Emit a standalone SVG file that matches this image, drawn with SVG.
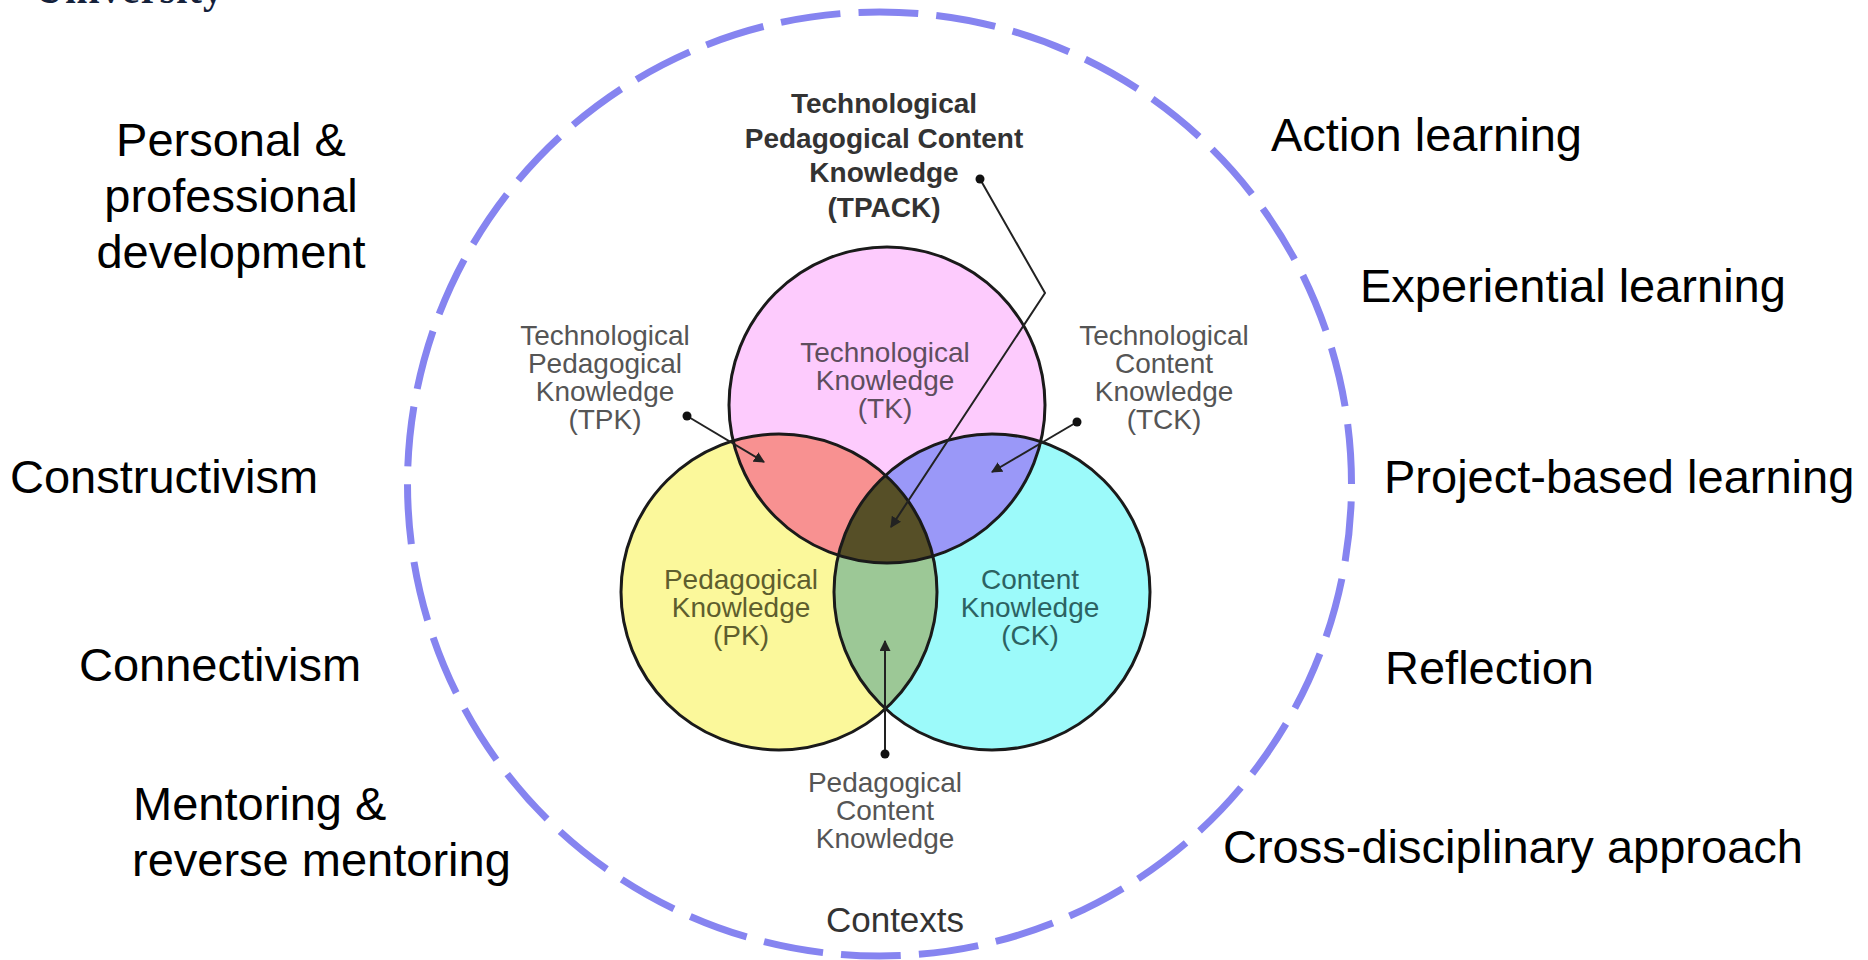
<svg xmlns="http://www.w3.org/2000/svg" width="1868" height="960" viewBox="0 0 1868 960">
  <style>
    .outer { font-family: "Liberation Sans", Arial, sans-serif; font-size: 47px; fill: #000; }
    .lbl { font-family: "Liberation Sans", Arial, sans-serif; font-size: 28px; fill: #555; text-anchor: middle; }
    .bold { font-weight: bold; fill: #333; }
    .ring { fill: none; stroke: #1a1a1a; stroke-width: 3; }
    .conn { fill: none; stroke: #222; stroke-width: 2; }
    .dot { fill: #111; }
  </style>
  <defs>
    <marker id="arrow" viewBox="0 0 10 10" refX="9" refY="5" markerWidth="11" markerHeight="11" markerUnits="userSpaceOnUse" orient="auto">
      <path d="M0,0 L10,5 L0,10 z" fill="#222"/>
    </marker>
    <clipPath id="clipTK"><circle cx="887" cy="405" r="158"/></clipPath>
    <clipPath id="clipPK"><circle cx="779" cy="592" r="158"/></clipPath>
    <clipPath id="clipCK"><circle cx="992" cy="592" r="158"/></clipPath>
  </defs>

  <rect width="1868" height="960" fill="#fff"/>

  <!-- header word cut by the top edge -->
  <text x="35" y="3" font-family="'Liberation Serif', serif" font-weight="bold" font-size="40" fill="#14213a" textLength="188">University</text>

  <!-- contexts ring -->
  <g id="contexts">
    <circle cx="879.5" cy="484" r="472" fill="none" stroke="#8684f0" stroke-width="7" stroke-dasharray="60 18.044" stroke-dashoffset="-17.47"/>
    <text class="lbl" x="895" y="932" style="font-size:35px; fill:#333">Contexts</text>
  </g>

  <!-- knowledge domains -->
  <g id="pk">
    <circle cx="779" cy="592" r="158" fill="#fbf89b"/>
  </g>
  <g id="ck">
    <circle cx="992" cy="592" r="158" fill="#9cfafa"/>
  </g>
  <g id="tk">
    <circle cx="887" cy="405" r="158" fill="#fdcbfd"/>
  </g>
  <g id="tpk">
    <circle cx="779" cy="592" r="158" fill="#f89191" clip-path="url(#clipTK)"/>
  </g>
  <g id="tck">
    <circle cx="992" cy="592" r="158" fill="#9a98f8" clip-path="url(#clipTK)"/>
  </g>
  <g id="pck">
    <circle cx="992" cy="592" r="158" fill="#9cc896" clip-path="url(#clipPK)"/>
  </g>
  <g id="tpack">
    <g clip-path="url(#clipPK)">
      <circle cx="992" cy="592" r="158" fill="#564f27" clip-path="url(#clipTK)"/>
    </g>
  </g>
  <g id="outlines">
    <circle class="ring" cx="779" cy="592" r="158"/>
    <circle class="ring" cx="992" cy="592" r="158"/>
    <circle class="ring" cx="887" cy="405" r="158"/>
  </g>

  <!-- domain labels -->
  <g id="tk-label">
    <text class="lbl" x="885" y="362" style="fill:#5e4e5e">Technological<tspan x="885" dy="28">Knowledge</tspan><tspan x="885" dy="28">(TK)</tspan></text>
  </g>
  <g id="pk-label">
    <text class="lbl" x="741" y="589" style="fill:#5e5e2e">Pedagogical<tspan x="741" dy="28">Knowledge</tspan><tspan x="741" dy="28">(PK)</tspan></text>
  </g>
  <g id="ck-label">
    <text class="lbl" x="1030" y="589" style="fill:#2c6262">Content<tspan x="1030" dy="28">Knowledge</tspan><tspan x="1030" dy="28">(CK)</tspan></text>
  </g>
  <g id="tpack-label">
    <text class="lbl bold" x="884" y="113">Technological<tspan x="884" dy="34.7">Pedagogical Content</tspan><tspan x="884" dy="34.7">Knowledge</tspan><tspan x="884" dy="34.7">(TPACK)</tspan></text>
  </g>
  <g id="tpk-label">
    <text class="lbl" x="605" y="345">Technological<tspan x="605" dy="28">Pedagogical</tspan><tspan x="605" dy="28">Knowledge</tspan><tspan x="605" dy="28">(TPK)</tspan></text>
  </g>
  <g id="tck-label">
    <text class="lbl" x="1164" y="345">Technological<tspan x="1164" dy="28">Content</tspan><tspan x="1164" dy="28">Knowledge</tspan><tspan x="1164" dy="28">(TCK)</tspan></text>
  </g>
  <g id="pck-label">
    <text class="lbl" x="885" y="792">Pedagogical<tspan x="885" dy="28">Content</tspan><tspan x="885" dy="28">Knowledge</tspan></text>
  </g>

  <!-- leader lines -->
  <g id="connectors">
    <polyline class="conn" points="980,179 1045,293 891,527" marker-end="url(#arrow)"/>
    <circle class="dot" cx="980" cy="179" r="4.5"/>
    <line class="conn" x1="687" y1="416" x2="764" y2="462" marker-end="url(#arrow)"/>
    <circle class="dot" cx="687" cy="416" r="4.5"/>
    <line class="conn" x1="1077" y1="422" x2="992" y2="472" marker-end="url(#arrow)"/>
    <circle class="dot" cx="1077" cy="422" r="4.5"/>
    <line class="conn" x1="885" y1="754" x2="885" y2="641" marker-end="url(#arrow)"/>
    <circle class="dot" cx="885" cy="754" r="4.5"/>
  </g>

  <!-- approaches, left -->
  <g id="personal-development">
    <text class="outer" x="231" y="156" text-anchor="middle">Personal &amp;<tspan x="231" dy="56">professional</tspan><tspan x="231" dy="56">development</tspan></text>
  </g>
  <g id="constructivism"><text class="outer" x="10" y="493">Constructivism</text></g>
  <g id="connectivism"><text class="outer" x="79" y="681">Connectivism</text></g>
  <g id="mentoring">
    <text class="outer" x="133" y="820">Mentoring &amp;<tspan x="132" dy="56">reverse mentoring</tspan></text>
  </g>

  <!-- approaches, right -->
  <g id="action-learning"><text class="outer" x="1271" y="151">Action learning</text></g>
  <g id="experiential-learning"><text class="outer" x="1360" y="302">Experiential learning</text></g>
  <g id="project-based-learning"><text class="outer" x="1384" y="493">Project-based learning</text></g>
  <g id="reflection"><text class="outer" x="1385" y="684">Reflection</text></g>
  <g id="cross-disciplinary"><text class="outer" x="1223" y="863">Cross-disciplinary approach</text></g>
</svg>
